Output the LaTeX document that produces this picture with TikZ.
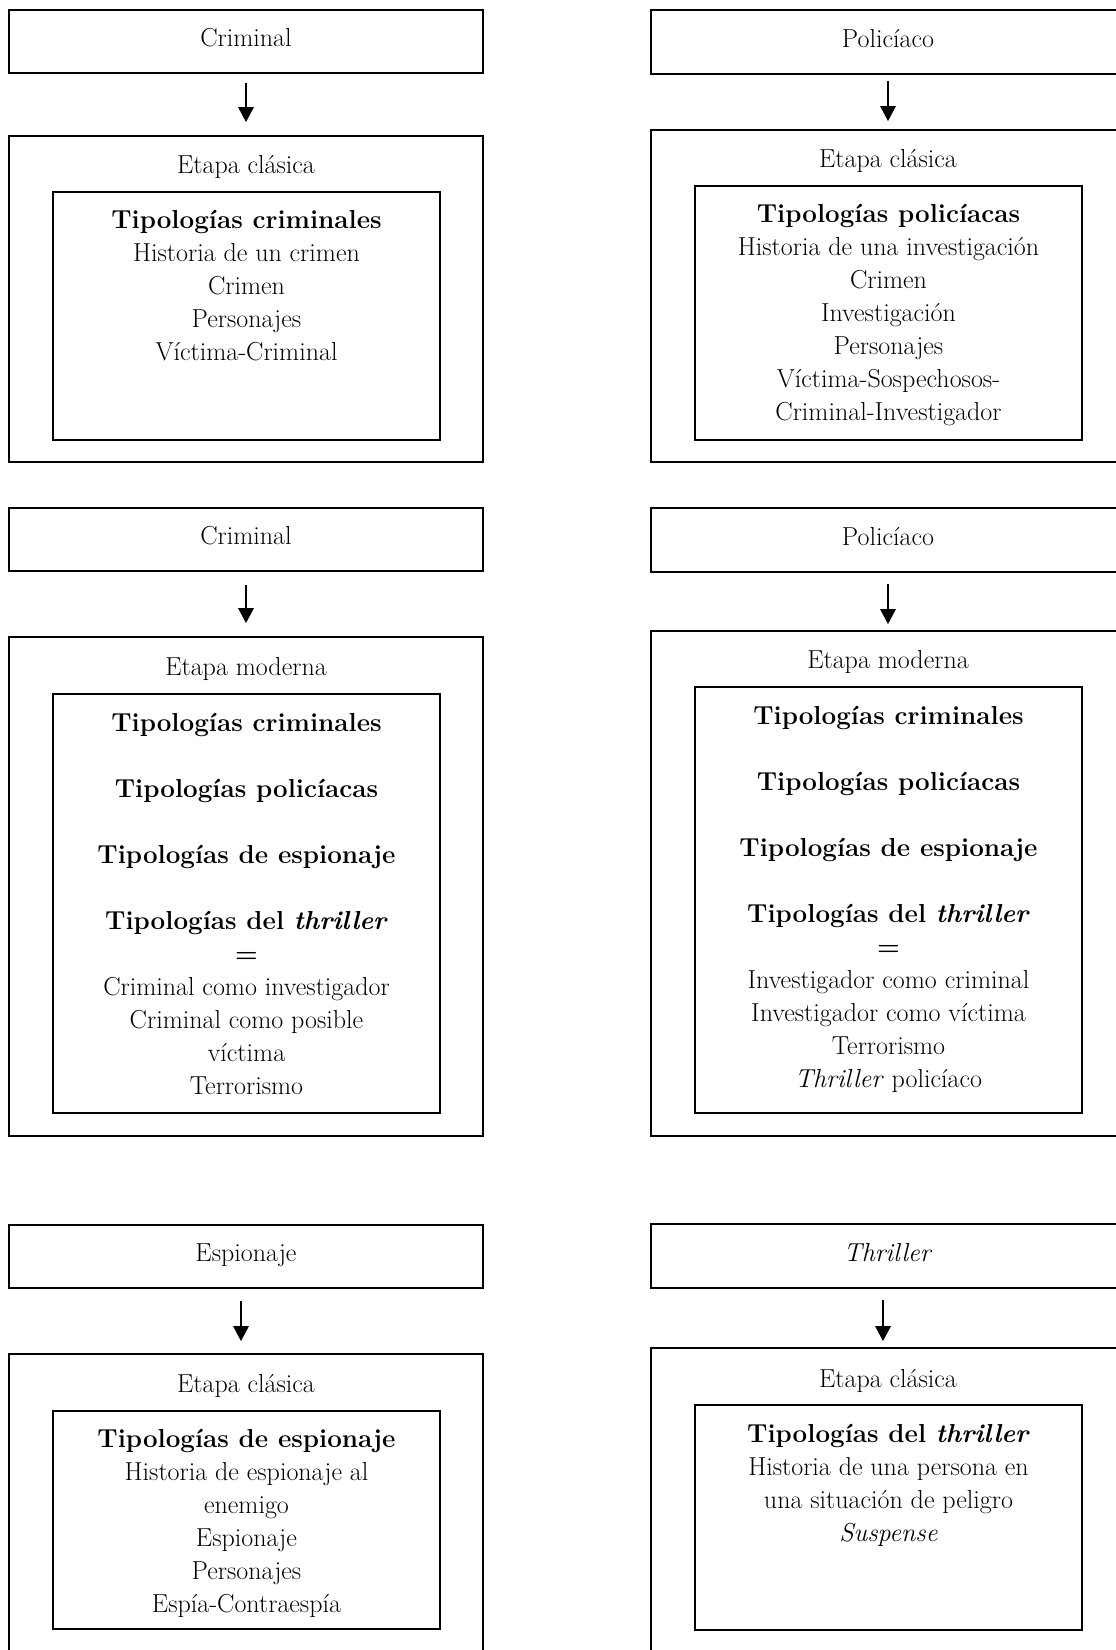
\documentclass[tikz,border=0pt]{standalone}
\usetikzlibrary{arrows.meta}
\newcommand{\txtfont}{\fontsize{26}{33}\selectfont}
\newcommand{\lines}[1]{\begin{tabular}[t]{@{}c@{}}#1\end{tabular}}
\begin{document}
\begin{tikzpicture}[x=1pt,y=-1pt,
  gbox/.style={draw, line width=1.8pt, rectangle, inner sep=0pt},
  ghead/.style={gbox, minimum width=474pt, font=\txtfont, text height=18pt, text depth=8pt},
  gouter/.style={gbox, minimum width=474pt},
  ginner/.style={gbox, minimum width=387pt},
  gtext/.style={anchor=base, inner sep=0pt, font=\txtfont},
  glink/.style={line width=1.5pt, -{Triangle[width=15.5pt,length=15pt]}}
]
\useasboundingbox (0,0) rectangle (1116,1650);
\fill[white] (0,0) rectangle (1116,1650);
\clip (0,0) rectangle (1116,1650);

% ---------- Criminal, etapa clásica ----------
\node[ghead, minimum height=63pt] (critop) at (246,41.5) {Criminal};
\node[gouter, minimum height=326pt] (criout) at (246,299) {};
\node[ginner, minimum height=248pt] (criin) at (246.5,316) {};
\node[gtext] (cristage) at (246,173) {Etapa clásica};
\node[gtext] (crilist) at (246.5,228) {\lines{\textbf{Tipologías criminales}\\
  Historia de un crimen\\ Crimen\\ Personajes\\ Víctima-Criminal}};
\draw[glink, shorten <=9pt, shorten >=13pt] (critop.south) -- (criout.north);

% ---------- Policíaco, etapa clásica ----------
\node[ghead, minimum height=64pt] (poltop) at (888,42) {Policíaco};
\node[gouter, minimum height=332pt] (polout) at (888,296) {};
\node[ginner, minimum height=254pt] (polin) at (888.5,313) {};
\node[gtext] (polstage) at (888,167) {Etapa clásica};
\node[gtext] (pollist) at (888.5,222) {\lines{\textbf{Tipologías policíacas}\\
  Historia de una investigación\\ Crimen\\ Investigación\\ Personajes\\
  Víctima-Sospechosos-\\ Criminal-Investigador}};
\draw[glink, shorten <=6pt, shorten >=8pt] (poltop.south) -- (polout.north);

% ---------- Criminal, etapa moderna ----------
\node[ghead, minimum height=63pt] (crmtop) at (246,539.5) {Criminal};
\node[gouter, minimum height=499pt] (crmout) at (246,886.5) {};
\node[ginner, minimum height=419pt] (crmin) at (246.5,903.5) {};
\node[gtext] (crmstage) at (246,675) {Etapa moderna};
\node[gtext] (crmlist) at (246.5,731) {\lines{\textbf{Tipologías criminales}\\ \\
  \textbf{Tipologías policíacas}\\ \\
  \textbf{Tipologías de espionaje}\\ \\
  \textbf{Tipologías del \textit{thriller}}\\ \textbf{=}\\
  Criminal como investigador\\ Criminal como posible\\ víctima\\ Terrorismo}};
\draw[glink, shorten <=13pt, shorten >=13pt] (crmtop.south) -- (crmout.north);

% ---------- Policíaco, etapa moderna ----------
\node[ghead, minimum height=64pt] (pmtop) at (888,540) {Policíaco};
\node[gouter, minimum height=505pt] (pmout) at (888,883.5) {};
\node[ginner, minimum height=426pt] (pmin) at (888.5,900) {};
\node[gtext] (pmstage) at (888,668.5) {Etapa moderna};
\node[gtext] (pmlist) at (888.5,724) {\lines{\textbf{Tipologías criminales}\\ \\
  \textbf{Tipologías policíacas}\\ \\
  \textbf{Tipologías de espionaje}\\ \\
  \textbf{Tipologías del \textit{thriller}}\\ \textbf{=}\\
  Investigador como criminal\\ Investigador como víctima\\ Terrorismo\\
  \textit{Thriller} policíaco}};
\draw[glink, shorten <=11pt, shorten >=6pt] (pmtop.south) -- (pmout.north);

% ---------- Espionaje, etapa clásica ----------
\node[ghead, minimum height=63pt] (esptop) at (246,1256.5) {Espionaje};
\node[gouter, minimum height=346pt] (espout) at (246,1527) {};
\node[ginner, minimum height=218pt] (espin) at (246.5,1520) {};
\node[gtext] (espstage) at (246,1392) {Etapa clásica};
\node[gtext] (esplist) at (246.5,1447) {\lines{\textbf{Tipologías de espionaje}\\
  Historia de espionaje al\\ enemigo\\ Espionaje\\ Personajes\\ Espía-Contraespía}};
\draw[glink, shorten <=12pt, shorten >=12pt] ([xshift=-5pt]esptop.south) -- ([xshift=-5pt]espout.north);

% ---------- Thriller, etapa clásica ----------
\node[ghead, minimum height=64pt] (thrtop) at (888,1256) {\textit{Thriller}};
\node[gouter, minimum height=352pt] (throut) at (888,1524) {};
\node[ginner, minimum height=225pt] (thrin) at (888.5,1517.5) {};
\node[gtext] (thrstage) at (888,1387) {Etapa clásica};
\node[gtext] (thrlist) at (888.5,1442) {\lines{\textbf{Tipologías del \textit{thriller}}\\
  Historia de una persona en\\ una situación de peligro\\ \textit{Suspense}}};
\draw[glink, shorten <=11pt, shorten >=6pt] ([xshift=-5pt]thrtop.south) -- ([xshift=-5pt]throut.north);
\end{tikzpicture}
\end{document}
